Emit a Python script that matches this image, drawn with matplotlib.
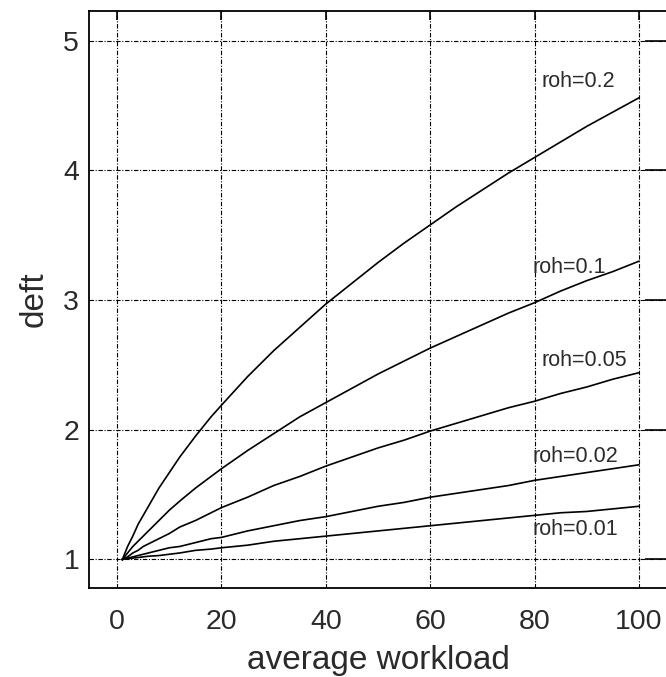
import matplotlib
matplotlib.use('Agg')
import matplotlib.pyplot as plt

plt.rcParams['font.family'] = ['Liberation Sans', 'DejaVu Sans']

# значения
workload = [1, 2, 3, 4, 5, 6, 8, 10, 12, 15, 18, 20, 25, 30, 35, 40, 45, 50,
            55, 60, 65, 70, 75, 80, 85, 90, 95, 100]
deft_02 = [1.00, 1.10, 1.18, 1.27, 1.34, 1.41, 1.55, 1.67, 1.79, 1.95, 2.10, 2.19, 2.41, 2.61,
           2.79, 2.97, 3.13, 3.29, 3.44, 3.58, 3.72, 3.85, 3.98, 4.10, 4.22, 4.34, 4.45, 4.56]
deft_01 = [1.00, 1.05, 1.10, 1.14, 1.18, 1.22, 1.30, 1.38, 1.45, 1.55, 1.64, 1.70, 1.84, 1.97,
           2.10, 2.21, 2.32, 2.43, 2.53, 2.63, 2.72, 2.81, 2.90, 2.98, 3.07, 3.15, 3.22, 3.30]
deft_005 = [1.00, 1.02, 1.05, 1.07, 1.10, 1.12, 1.16, 1.20, 1.25, 1.30, 1.36, 1.40, 1.48, 1.57,
            1.64, 1.72, 1.79, 1.86, 1.92, 1.99, 2.05, 2.11, 2.17, 2.22, 2.28, 2.33, 2.39, 2.44]
deft_002 = [1.00, 1.01, 1.02, 1.03, 1.04, 1.05, 1.07, 1.09, 1.10, 1.13, 1.16, 1.17, 1.22, 1.26,
            1.30, 1.33, 1.37, 1.41, 1.44, 1.48, 1.51, 1.54, 1.57, 1.61, 1.64, 1.67, 1.70, 1.73]
deft_001 = [1.00, 1.005, 1.01, 1.015, 1.02, 1.025, 1.03, 1.04, 1.05, 1.07, 1.08, 1.09, 1.11, 1.14,
            1.16, 1.18, 1.20, 1.22, 1.24, 1.26, 1.28, 1.30, 1.32, 1.34, 1.36, 1.37, 1.39, 1.41]

series = [deft_02, deft_01, deft_005, deft_002, deft_001]
labels = ['roh=0.2', 'roh=0.1', 'roh=0.05', 'roh=0.02', 'roh=0.01']
label_pos = [(81.3, 4.64), (79.7, 3.21), (81.3, 2.49), (79.7, 1.75), (79.7, 1.19)]

x_ticks = [0, 20, 40, 60, 80, 100]
y_ticks = [1, 2, 3, 4, 5]

fig = plt.figure(figsize=(6.66, 6.77), dpi=100)
ax = fig.add_axes([0.1336, 0.1315, 0.868, 0.8523])

for vals in series:
    ax.plot(workload, vals, color='black', linewidth=1.2)

for text, (tx, ty) in zip(labels, label_pos):
    ax.text(tx, ty, text, fontsize=15.5, color='#2a2a2a', ha='left', va='baseline')

ax.set_xlim(-5.4, 105.4)
ax.set_ylim(0.78, 5.23)
ax.set_xticks(x_ticks)
ax.set_yticks(y_ticks)

ax.grid(True, color='black', linewidth=0.8, linestyle=(0, (4, 1.5, 1, 1.5)))

ax.tick_params(axis='x', which='both', bottom=False, top=True, direction='in',
               length=6.5, width=1.2, labelsize=20.5, pad=15, labelcolor='#2a2a2a')
ax.tick_params(axis='y', which='both', left=False, right=True, direction='in',
               length=16, width=1.2, labelsize=20.5, pad=7, labelcolor='#2a2a2a')

for sp in ax.spines.values():
    sp.set_linewidth(1.3)

ax.set_xlabel('average workload', fontsize=24, color='#2a2a2a', labelpad=7)
ax.set_ylabel('deft', fontsize=24, color='#2a2a2a', labelpad=10)

fig.savefig('out.png', dpi=100)
plt.close(fig)
